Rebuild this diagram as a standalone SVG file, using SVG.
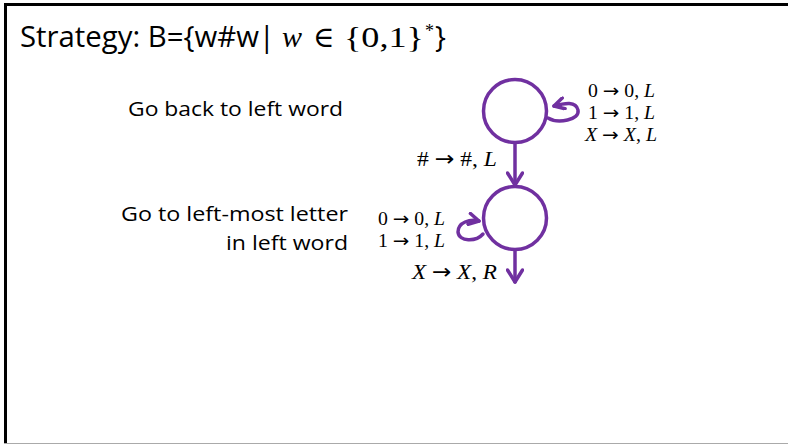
<svg xmlns="http://www.w3.org/2000/svg" width="788" height="445" viewBox="0 0 788 445">
<style>
.sans{font-family:"Open Sans","Liberation Sans",sans-serif;fill:#000}
.math{font-family:"Liberation Serif","DejaVu Serif",serif;fill:#000}
.it{font-style:italic}
.ar{font-family:"DejaVu Sans",sans-serif}
.node{fill:none;stroke:#7030A0;stroke-width:3.5}
.edge{fill:none;stroke:#7030A0;stroke-width:3.5;stroke-linecap:round}
</style>
<defs>
<marker id="arr" viewBox="0 0 16 18" refX="14" refY="9" markerWidth="16" markerHeight="18" markerUnits="userSpaceOnUse" orient="auto">
<path d="M2,1.5 L14,9 L2,16.5" fill="none" stroke="#7030A0" stroke-width="3.5" stroke-linecap="round" stroke-linejoin="round"/>
</marker>
<marker id="arrs" viewBox="0 0 14 14" refX="12" refY="7" markerWidth="14" markerHeight="14" markerUnits="userSpaceOnUse" orient="auto">
<path d="M2,1.5 L12,7 L2,12.5" fill="none" stroke="#7030A0" stroke-width="3.5" stroke-linecap="round" stroke-linejoin="round"/>
</marker>
</defs>
<rect width="788" height="445" fill="#fff"/>
<g id="frame">
<rect x="4" y="3" width="784" height="3" fill="#000"/>
<rect x="4" y="3" width="3" height="441" fill="#000"/>
<rect x="4" y="443" width="784" height="1" fill="#aaa"/>
</g>
<g id="title">
<text class="sans" x="20" y="47" font-size="29" textLength="255" lengthAdjust="spacingAndGlyphs">Strategy: B={w#w|</text>
<text class="math it" x="282" y="47" font-size="30">w</text>
<text class="math" x="313" y="47" font-size="29">∈</text>
<text class="math" x="344" y="47" font-size="30" textLength="80" lengthAdjust="spacingAndGlyphs">{0,1}</text>
<text class="math" x="425" y="37" font-size="18">*</text>
<text class="sans" x="435" y="47" font-size="29">}</text>
</g>
<g id="label-back">
<text class="sans" x="343" y="116" font-size="20" text-anchor="end" textLength="215" lengthAdjust="spacingAndGlyphs">Go back to left word</text>
</g>
<g id="label-leftmost">
<text class="sans" x="348" y="221" font-size="20" text-anchor="end" textLength="227" lengthAdjust="spacingAndGlyphs">Go to left-most letter</text>
<text class="sans" x="348" y="250" font-size="20" text-anchor="end" textLength="122" lengthAdjust="spacingAndGlyphs">in left word</text>
</g>
<g id="q1">
<circle class="node" cx="515" cy="111" r="31.5"/>
</g>
<g id="q2">
<circle class="node" cx="515" cy="218" r="31.5"/>
</g>
<g id="connectors">
<path class="edge" d="M548,118 C558,124 580,120 578,110 C576,101 565,103 554,106" marker-end="url(#arrs)"/>
<path class="edge" d="M515,143 L515,185" marker-end="url(#arr)"/>
<path class="edge" d="M483,234 C476,242 459,242 458,232 C458,222 470,219 479,221" marker-end="url(#arrs)"/>
<path class="edge" d="M515,250 L515,282" marker-end="url(#arr)"/>
</g>
<g id="edge-labels">
<text class="math" x="588" y="97" font-size="18" textLength="67" lengthAdjust="spacingAndGlyphs">0 <tspan class="ar">→</tspan> 0, <tspan class="it">L</tspan></text>
<text class="math" x="588" y="119" font-size="18" textLength="67" lengthAdjust="spacingAndGlyphs">1 <tspan class="ar">→</tspan> 1, <tspan class="it">L</tspan></text>
<text class="math" x="585" y="141" font-size="18" textLength="72" lengthAdjust="spacingAndGlyphs"><tspan class="it">X</tspan> <tspan class="ar">→</tspan> <tspan class="it">X</tspan>, <tspan class="it">L</tspan></text>
<text class="math" x="417" y="166" font-size="21" textLength="80" lengthAdjust="spacingAndGlyphs"># <tspan class="ar">→</tspan> #, <tspan class="it">L</tspan></text>
<text class="math" x="378" y="225" font-size="18" textLength="67" lengthAdjust="spacingAndGlyphs">0 <tspan class="ar">→</tspan> 0, <tspan class="it">L</tspan></text>
<text class="math" x="378" y="247" font-size="18" textLength="67" lengthAdjust="spacingAndGlyphs">1 <tspan class="ar">→</tspan> 1, <tspan class="it">L</tspan></text>
<text class="math" x="412" y="279" font-size="21" textLength="85" lengthAdjust="spacingAndGlyphs"><tspan class="it">X</tspan> <tspan class="ar">→</tspan> <tspan class="it">X</tspan>, <tspan class="it">R</tspan></text>
</g>
</svg>
